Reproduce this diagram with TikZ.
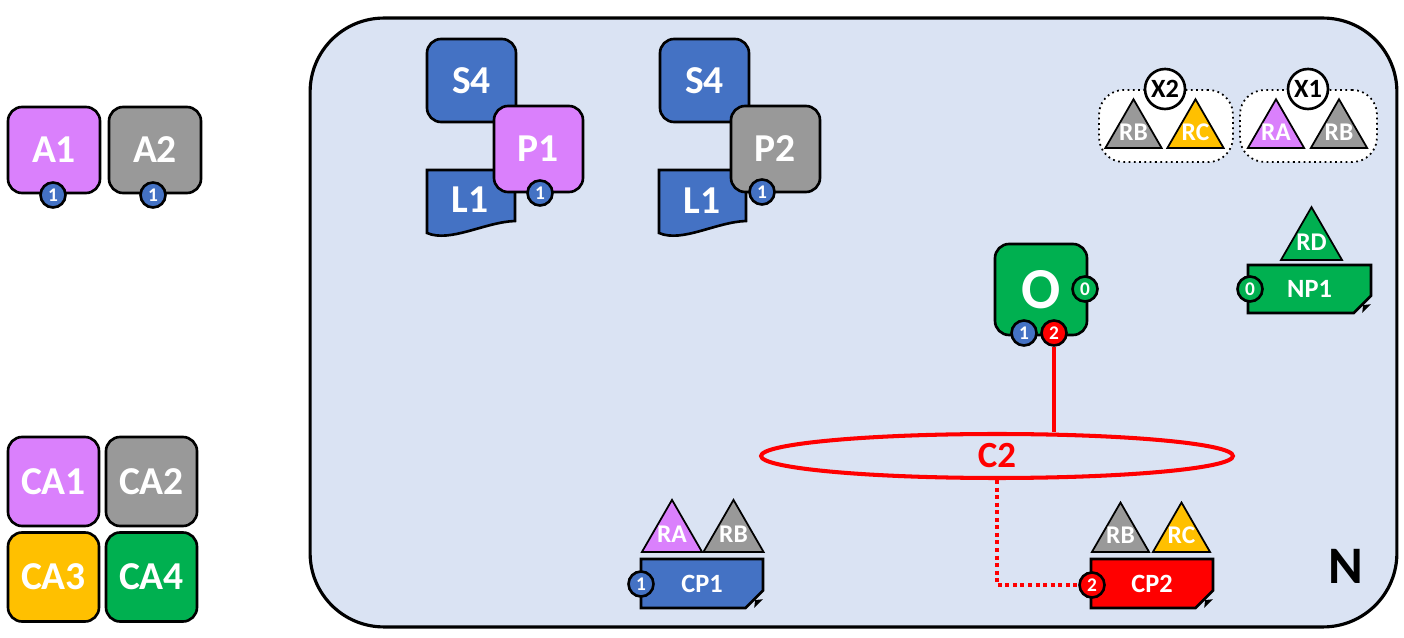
\documentclass[tikz,border=0pt]{standalone}
\usepackage{fontspec}
\setmainfont{Carlito}
\usetikzlibrary{shapes.geometric,shapes.misc}

\definecolor{netfill}{HTML}{DAE3F3}
\definecolor{myblue}{HTML}{4472C4}
\definecolor{mypurple}{HTML}{DA80FC}
\definecolor{mygray}{HTML}{999999}
\definecolor{myyellow}{HTML}{FFC000}
\definecolor{mygreen}{HTML}{00B050}
\definecolor{myred}{HTML}{FF0000}

\begin{document}
\begin{tikzpicture}[
    x=0.02cm, y=-0.02cm,
    box/.style={rectangle, rounded corners=8pt, draw, line width=1.5pt, text=white, inner sep=0pt, outer sep=0pt, minimum width=1.8cm, minimum height=1.72cm, font=\bfseries\fontsize{22.5}{26}\selectfont},
    doc/.style={draw, line width=1.5pt, fill=myblue},
    doctext/.style={text=white, inner sep=0pt, font=\bfseries\fontsize{22.5}{26}\selectfont},
    port/.style={circle, draw, line width=1.5pt, minimum size=0.5cm, inner sep=0pt, text=white, font=\bfseries\fontsize{11}{12}\selectfont},
    res/.style={regular polygon, regular polygon sides=3, draw, line width=1pt, minimum size=1.3cm, inner sep=0pt, outer sep=0pt, anchor=side 2,
        label={[text=white, inner sep=0pt, font=\bfseries\fontsize{14.5}{16}\selectfont]center:#1}},
    cp/.style={chamfered rectangle, chamfered rectangle corners=south east, chamfered rectangle xsep=5pt, chamfered rectangle ysep=5pt, draw, line width=1.5pt, minimum width=2.44cm, minimum height=0.98cm, inner sep=0pt, outer sep=0pt, text=white, font=\bfseries\fontsize{15}{17}\selectfont},
    grp/.style={rectangle, rounded corners=14pt, draw, dotted, line width=1pt, fill=white, minimum width=2.7cm, minimum height=1.44cm},
    xnode/.style={circle, draw, line width=1.5pt, fill=white, minimum size=0.8cm, inner sep=0pt, font=\bfseries\fontsize{15}{17}\selectfont},
    link/.style={draw=myred, line width=2.3pt}
]
\useasboundingbox (0,0) rectangle (1404,638);

% Network
\node[draw, line width=1.8pt, fill=netfill, rounded corners=42pt, minimum width=21.74cm, minimum height=12.18cm] (net) at (853.5,322.5) {};
\node[font=\bfseries\fontsize{30}{34}\selectfont] (nlab) at (1346,566) {N};

% Applications
\node[box, fill=mypurple, minimum width=1.84cm] (a1) at (54,150) {A1};
\node[port, fill=myblue] (a1p) at (53,195) {1};
\node[box, fill=mygray, minimum width=1.84cm] (a2) at (155,150) {A2};
\node[port, fill=myblue] (a2p) at (153,195) {1};

% Colour legend
\node[box, fill=mypurple, minimum width=1.82cm, minimum height=1.78cm] (ca1) at (53.5,481.5) {CA1};
\node[box, fill=mygray, minimum width=1.82cm, minimum height=1.78cm] (ca2) at (151.5,481.5) {CA2};
\node[box, fill=myyellow, minimum width=1.82cm, minimum height=1.78cm] (ca3) at (53.5,577) {CA3};
\node[box, fill=mygreen, minimum width=1.82cm, minimum height=1.78cm] (ca4) at (151.5,577) {CA4};

% Processes
\node[box, fill=myblue, minimum width=1.78cm, minimum height=1.66cm] (sa) at (471.5,80.5) {S4};
\draw[doc] (427,170) -- (515,170) -- (515,221) .. controls (485,222) and (450,243) .. (427,233) -- cycle;
\node[doctext] (la) at (470,200) {L1};
\node[box, fill=mypurple, minimum width=1.78cm] (pa) at (538.5,149) {P1};
\node[port, fill=myblue] (pap) at (540,193) {1};

\node[box, fill=myblue, minimum width=1.78cm, minimum height=1.66cm] (sb) at (704.5,80.5) {S4};
\draw[doc] (659,170) -- (746,170) -- (746,221) .. controls (716,222) and (682,243) .. (659,233) -- cycle;
\node[doctext] (lb) at (702,201) {L1};
\node[box, fill=mygray, minimum width=1.78cm] (pb) at (775.5,149) {P2};
\node[port, fill=myblue] (pbp) at (762,192) {1};

% Exclusion groups
\node[grp, minimum width=2.68cm] (g2) at (1166,126) {};
\node[res=RB, fill=mygray] (g2rb) at (1133.5,148) {};
\node[res=RC, fill=myyellow] (g2rc) at (1195.5,148) {};
\node[xnode] (x2) at (1165,89) {X2};

\node[grp, minimum width=2.74cm] (g1) at (1308.5,126) {};
\node[res=RA, fill=mypurple] (g1ra) at (1276,148) {};
\node[res=RB, fill=mygray] (g1rb) at (1339,148) {};
\node[xnode] (x1) at (1308,89) {X1};

% Orchestrator
\node[box, fill=mygreen, minimum width=1.84cm, minimum height=1.82cm, font=\bfseries\fontsize{33}{36}\selectfont] (o) at (1041,289.5) {O};
\node[port, fill=mygreen] (o0) at (1085,289) {0};
\node[port, fill=myblue] (o1) at (1024,333) {1};
\node[port, fill=myred] (o2) at (1054,333) {2};

% Node pools
\node[res=RD, fill=mygreen, minimum size=1.41cm] (rd) at (1311.5,260) {};
\node[cp, fill=mygreen, minimum width=2.46cm, minimum height=0.96cm] (np1) at (1309.5,289) {NP1};
\coordinate (np1se) at (np1.east |- np1.south);
\fill ([xshift=-5pt]np1se) -- ([yshift=5pt]np1se) -- ([xshift=-4.5pt,yshift=4.5pt]np1se) -- cycle;
\node[port, fill=mygreen] (np1p) at (1250,289) {0};

\node[res=RA, fill=mypurple, minimum size=1.39cm] (cp1ra) at (672,552) {};
\node[res=RB, fill=mygray, minimum size=1.39cm] (cp1rb) at (733.5,552) {};
\node[cp, fill=myblue] (cp1) at (702,583.5) {CP1};
\coordinate (cp1se) at (cp1.east |- cp1.south);
\fill ([xshift=-5pt]cp1se) -- ([yshift=5pt]cp1se) -- ([xshift=-4.5pt,yshift=4.5pt]cp1se) -- cycle;
\node[port, fill=myblue] (cp1p) at (641,584) {1};

\node[res=RB, fill=mygray, minimum size=1.32cm] (cp2rb) at (1120.5,552) {};
\node[res=RC, fill=myyellow, minimum size=1.32cm] (cp2rc) at (1181.5,552) {};
\node[cp, fill=myred] (cp2) at (1152,583.5) {CP2};
\coordinate (cp2se) at (cp2.east |- cp2.south);
\fill ([xshift=-5pt]cp2se) -- ([yshift=5pt]cp2se) -- ([xshift=-4.5pt,yshift=4.5pt]cp2se) -- cycle;
\node[port, fill=myred] (cp2p) at (1092,585) {2};

% Channel
\node[ellipse, draw=myred, line width=2.3pt, minimum width=9.44cm, minimum height=0.88cm, inner sep=0pt, text=myred, font=\bfseries\fontsize{21}{24}\selectfont] (c2) at (997,456) {C2};
\draw[link] (o2.south) -- (o2.south |- c2.north);
\draw[link, dash pattern=on 2.3pt off 2pt] (c2.south) |- (cp2p.west);

\end{tikzpicture}
\end{document}
